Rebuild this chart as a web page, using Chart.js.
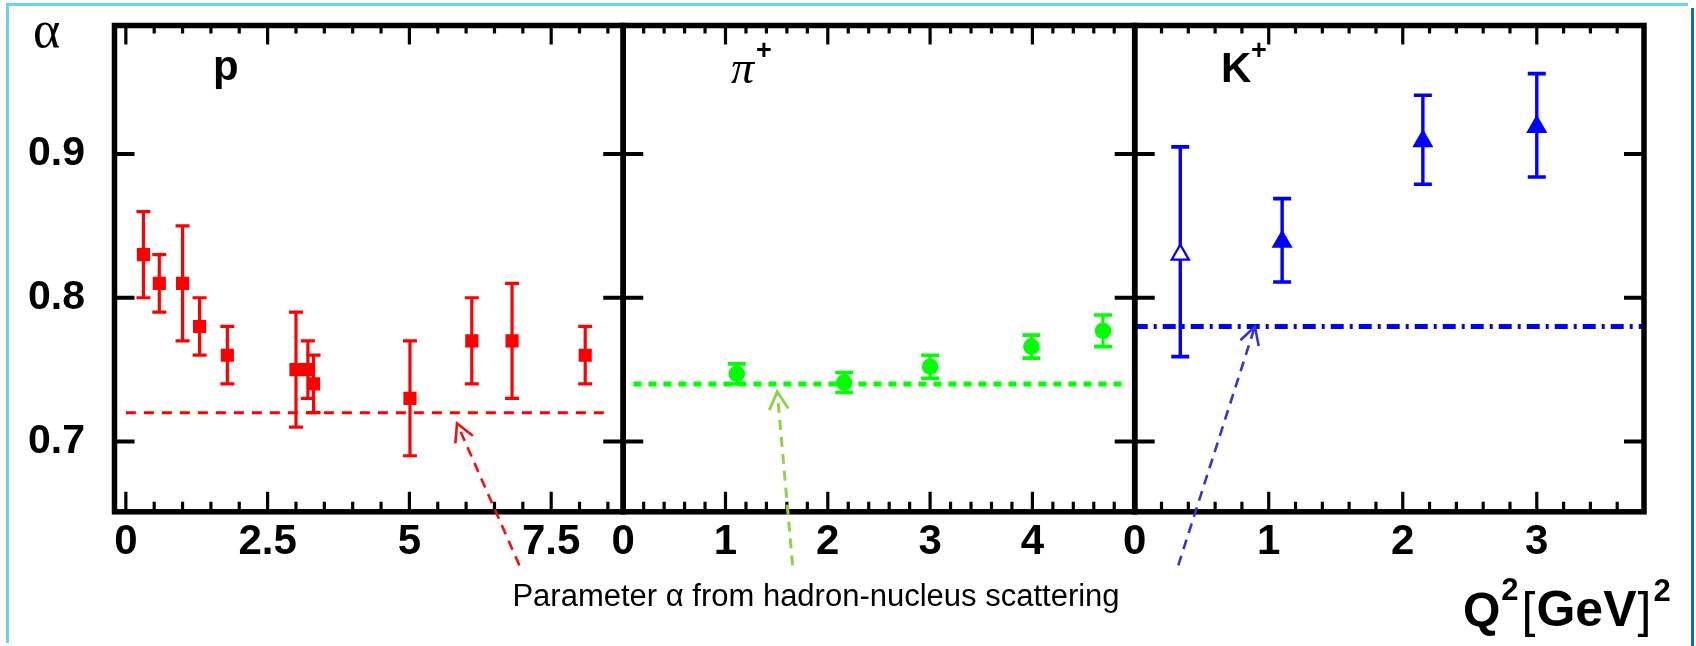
<!DOCTYPE html>
<html>
<head>
<meta charset="utf-8">
<title>Parameter α vs Q²</title>
<script src="https://cdn.jsdelivr.net/npm/chart.js@4.4.1/dist/chart.umd.min.js"></script>
<style>
  html, body { margin:0; padding:0; background:#ffffff; }
  #wrap { position:relative; width:1696px; height:646px; overflow:hidden; background:#ffffff; }
  #wrap canvas { position:absolute; left:0; top:0; }
  .edge { position:absolute; }
</style>
</head>
<body>
<div id="wrap">
  <div class="edge" style="left:6px;top:3px;width:1682px;height:3px;background:#6ccff6;"></div>
  <div class="edge" style="left:6px;top:3px;width:3px;height:640px;background:#6ccff6;"></div>
  <div class="edge" style="left:1691px;top:8px;width:3px;height:638px;background:#0b72a0;"></div>
  <canvas id="cP" width="1696" height="646"></canvas>
  <canvas id="cPi" width="1696" height="646"></canvas>
  <canvas id="cK" width="1696" height="646"></canvas>
</div>
<script>
// ------------------------------------------------------------------ data
const yTicks      = [0.7, 0.8, 0.9];
const yTickLabels = ['0.7', '0.8', '0.9'];
const yRange      = [0.651, 0.9895];

// proton panel
const pQ2    = [0.31, 0.59, 1.00, 1.30, 1.79, 3.00, 3.21, 3.31, 5.01, 6.10, 6.81, 8.10];
const pAlpha = [0.83, 0.81, 0.81, 0.78, 0.76, 0.75, 0.75, 0.74, 0.73, 0.77, 0.77, 0.76];
const pErr   = [0.03, 0.02, 0.04, 0.02, 0.02, 0.04, 0.02, 0.02, 0.04, 0.03, 0.04, 0.02];
const pFitAlpha = 0.72;
const pFitQ2    = [0, 8.45];
const pXTicks      = [0, 2.5, 5, 7.5];
const pXTickLabels = ['0', '2.5', '5', '7.5'];
const pXMinorStep  = 0.5;
const pXRange      = [-0.2, 8.77];

// pi+ panel
const piQ2    = [1.11, 2.16, 3.00, 3.99, 4.69];
const piAlpha = [0.747, 0.741, 0.752, 0.766, 0.777];
const piErr   = [0.007, 0.007, 0.008, 0.008, 0.011];
const piFitAlpha = 0.74;
const piFitQ2    = [0.1, 4.93];
const piXTicks      = [0, 1, 2, 3, 4];
const piXTickLabels = ['0', '1', '2', '3', '4'];
const piXMinorStep  = 0.2;
const piXRange      = [0, 5];

// K+ panel
const kQ2      = [0.34, 1.10, 2.15, 3.00];
const kAlpha   = [0.830, 0.839, 0.909, 0.919];
const kErrUp   = [0.075, 0.030, 0.032, 0.037];
const kErrDown = [0.071, 0.028, 0.030, 0.035];
const kFitAlpha = 0.78;
const kFitQ2    = [0, 3.8];
const kXTicks      = [0, 1, 2, 3];
const kXTickLabels = ['0', '1', '2', '3'];
const kXMinorStep  = 0.2;
const kXRange      = [0, 3.8];

// ------------------------------------------------------------------ layout / style
const W = 1696, H = 646;
const AREA_TOP = 25.5, AREA_BOTTOM = 511.8;
const Y_AXIS_W = 100;
const SANS  = "'Liberation Sans', Arial, Helvetica, sans-serif";
const SERIF = "'Liberation Serif', 'Times New Roman', serif";

function tickList(range, step) {
  const out = [];
  const n0 = Math.ceil(range[0] / step - 1e-9), n1 = Math.floor(range[1] / step + 1e-9);
  for (let n = n0; n <= n1; n++) out.push(+(n * step).toFixed(6));
  return out;
}

function drawArrow(ctx, x, y, a) {
  const fx = x.getPixelForValue(a.from[0]), fy = y.getPixelForValue(a.from[1]);
  const tx = x.getPixelForValue(a.to[0]),   ty = y.getPixelForValue(a.to[1]);
  ctx.save();
  ctx.strokeStyle = a.color; ctx.lineWidth = a.width; ctx.lineCap = 'butt';
  ctx.setLineDash(a.dash);
  ctx.beginPath(); ctx.moveTo(fx, fy); ctx.lineTo(tx, ty); ctx.stroke();
  ctx.setLineDash([]);
  const ang = Math.atan2(fy - ty, fx - tx), half = 0.5, len = 20;
  ctx.beginPath();
  ctx.moveTo(tx + len * Math.cos(ang + half), ty + len * Math.sin(ang + half));
  ctx.lineTo(tx, ty);
  ctx.lineTo(tx + len * Math.cos(ang - half), ty + len * Math.sin(ang - half));
  ctx.stroke();
  ctx.restore();
}

function makeDeco(cfg) {
  const minor = tickList(cfg.xRange, cfg.minorStep);
  return {
    id: 'deco_' + cfg.id,
    beforeDatasetsDraw(chart) {
      const {ctx, scales: {x, y}} = chart;
      ctx.save();
      ctx.strokeStyle = cfg.color;
      cfg.q2.forEach((q, i) => {
        const px = x.getPixelForValue(q);
        const yt = y.getPixelForValue(cfg.alpha[i] + cfg.errUp[i]);
        const yb = y.getPixelForValue(cfg.alpha[i] - cfg.errDown[i]);
        ctx.lineWidth = cfg.errLine;
        ctx.beginPath(); ctx.moveTo(px, yt); ctx.lineTo(px, yb); ctx.stroke();
        ctx.lineWidth = cfg.capThick;
        ctx.beginPath();
        ctx.moveTo(px - cfg.capW / 2, yt); ctx.lineTo(px + cfg.capW / 2, yt);
        ctx.moveTo(px - cfg.capW / 2, yb); ctx.lineTo(px + cfg.capW / 2, yb);
        ctx.stroke();
      });
      ctx.restore();
    },
    afterDraw(chart) {
      const {ctx, chartArea: ca, scales: {x, y}} = chart;
      ctx.save();
      ctx.strokeStyle = '#000'; ctx.lineCap = 'butt';
      // x tick marks (inward, top and bottom)
      ctx.lineWidth = 3.2;
      minor.forEach(v => {
        const px = x.getPixelForValue(v);
        if (px < ca.left + 2 || px > ca.right - 2) return;
        const major = cfg.xTicks.some(m => Math.abs(m - v) < 1e-6);
        const lb = major ? 20 : 10, lt = major ? 19 : 8;
        ctx.beginPath();
        ctx.moveTo(px, ca.bottom); ctx.lineTo(px, ca.bottom - lb);
        ctx.moveTo(px, ca.top); ctx.lineTo(px, ca.top + lt);
        ctx.stroke();
      });
      // y tick marks (inward, left and right)
      ctx.lineWidth = 4;
      yTicks.forEach(v => {
        const py = y.getPixelForValue(v);
        ctx.beginPath();
        ctx.moveTo(ca.left, py); ctx.lineTo(ca.left + 20, py);
        ctx.moveTo(ca.right, py); ctx.lineTo(ca.right - 20, py);
        ctx.stroke();
      });
      // frame
      ctx.lineWidth = 5.5;
      ctx.strokeRect(ca.left, ca.top, ca.right - ca.left, ca.bottom - ca.top);
      ctx.restore();
      // annotation arrow
      if (cfg.arrow) drawArrow(ctx, x, y, cfg.arrow);
      // texts
      ctx.save();
      ctx.fillStyle = '#000';
      (cfg.texts || []).forEach(t => {
        ctx.font = t.font;
        ctx.textAlign = t.align || 'left';
        ctx.textBaseline = t.baseline || 'alphabetic';
        ctx.fillText(t.text, t.x, t.y);
      });
      if (cfg.after) cfg.after(ctx);
      ctx.restore();
    }
  };
}

function makePanel(cfg) {
  const canvas = document.getElementById(cfg.id);
  const yW = cfg.showY ? Y_AXIS_W : 0;
  return new Chart(canvas, {
    type: 'scatter',
    data: {
      datasets: [
        {
          label: cfg.name,
          data: cfg.q2.map((q, i) => ({x: q, y: cfg.alpha[i]})),
          pointStyle: cfg.pointStyle,
          pointRadius: cfg.pointRadius,
          pointBackgroundColor: cfg.pointFill,
          pointBorderColor: cfg.color,
          pointBorderWidth: cfg.pointBorder,
          showLine: false
        },
        {
          label: cfg.name + ' hadron-nucleus',
          data: cfg.fitQ2.map(q => ({x: q, y: cfg.fitAlpha})),
          showLine: true,
          borderColor: cfg.color,
          borderWidth: cfg.fitWidth,
          borderDash: cfg.fitDash,
          borderCapStyle: 'butt',
          pointRadius: 0,
          fill: false
        }
      ]
    },
    options: {
      responsive: false,
      animation: false,
      events: [],
      layout: {padding: {left: cfg.left - yW, right: W - cfg.right, top: AREA_TOP, bottom: 0}},
      plugins: {legend: {display: false}, tooltip: {enabled: false}, title: {display: false}},
      scales: {
        x: {
          type: 'linear', position: 'bottom',
          min: cfg.xRange[0], max: cfg.xRange[1],
          grid: {display: false, drawTicks: false},
          border: {display: false},
          afterBuildTicks: s => { s.ticks = cfg.xTicks.map(v => ({value: v})); },
          afterFit: s => { s.height = H - AREA_BOTTOM; s.paddingLeft = 0; s.paddingRight = 0; },
          ticks: {
            autoSkip: false, maxRotation: 0, minRotation: 0, padding: 5, color: '#000',
            font: {family: SANS, size: 42, weight: 'bold'},
            callback: (v, i) => cfg.xTickLabels[i]
          }
        },
        y: {
          type: 'linear', position: 'left',
          min: yRange[0], max: yRange[1],
          grid: {display: false, drawTicks: false},
          border: {display: false},
          afterBuildTicks: s => { s.ticks = yTicks.map(v => ({value: v})); },
          afterFit: s => { s.width = yW; s.paddingTop = 0; s.paddingBottom = 0; },
          ticks: {
            display: cfg.showY, autoSkip: false, padding: 29.5, color: '#000',
            font: {family: SANS, size: 41, weight: 'bold'},
            callback: (v, i) => yTickLabels[i]
          }
        }
      }
    },
    plugins: [makeDeco(cfg)]
  });
}

const RED = '#ff0000', GREEN = '#00ff00', BLUE = '#0000ff';

makePanel({
  id: 'cP', name: 'p', left: 114.5, right: 623.2, showY: true,
  xRange: pXRange, xTicks: pXTicks, xTickLabels: pXTickLabels, minorStep: pXMinorStep,
  q2: pQ2, alpha: pAlpha, errUp: pErr, errDown: pErr,
  fitQ2: pFitQ2, fitAlpha: pFitAlpha,
  color: RED, pointStyle: 'rect', pointRadius: 9.3, pointFill: RED, pointBorder: 0,
  errLine: 3.2, capW: 14, capThick: 3.2,
  fitWidth: 3, fitDash: [10, 8],
  arrow: {from: [6.94, 0.6137], to: [5.84, 0.7125], color: '#f01010', width: 2.6, dash: [10, 7]},
  texts: [
    {text: 'α', x: 33, y: 47, font: `52px ${SERIF}`},
    {text: 'p', x: 213, y: 80, font: `bold 42px ${SANS}`}
  ]
});

makePanel({
  id: 'cPi', name: 'π+', left: 623.2, right: 1134.7, showY: false,
  xRange: piXRange, xTicks: piXTicks, xTickLabels: piXTickLabels, minorStep: piXMinorStep,
  q2: piQ2, alpha: piAlpha, errUp: piErr, errDown: piErr,
  fitQ2: piFitQ2, fitAlpha: piFitAlpha,
  color: GREEN, pointStyle: 'circle', pointRadius: 8.3, pointFill: GREEN, pointBorder: 0,
  errLine: 3.2, capW: 18, capThick: 3.6,
  fitWidth: 5, fitDash: [8, 7],
  arrow: {from: [1.656, 0.6137], to: [1.506, 0.7345], color: '#92d050', width: 3, dash: [10, 7]},
  texts: [
    {text: 'π', x: 731, y: 83, font: `italic 46px ${SERIF}`},
    {text: '+', x: 764, y: 52, font: `bold 27px ${SANS}`, align: 'center', baseline: 'middle'},
    {text: 'Parameter α from hadron-nucleus scattering', x: 816, y: 606, font: `31px ${SANS}`, align: 'center'}
  ]
});

makePanel({
  id: 'cK', name: 'K+', left: 1134.7, right: 1644, showY: false,
  xRange: kXRange, xTicks: kXTicks, xTickLabels: kXTickLabels, minorStep: kXMinorStep,
  q2: kQ2, alpha: kAlpha, errUp: kErrUp, errDown: kErrDown,
  fitQ2: kFitQ2, fitAlpha: kFitAlpha,
  color: BLUE, pointStyle: 'triangle', pointRadius: 10,
  pointFill: ctx => ctx.dataIndex === 0 ? '#ffffff' : BLUE, pointBorder: 2.2,
  errLine: 3.4, capW: 18, capThick: 3.6,
  fitWidth: 5, fitDash: [13, 6, 3, 6],
  arrow: {from: [0.325, 0.6137], to: [0.897, 0.78], color: '#3535cc', width: 2.6, dash: [10, 7]},
  texts: [
    {text: 'K', x: 1221, y: 82, font: `bold 42px ${SANS}`},
    {text: '+', x: 1259, y: 52, font: `bold 27px ${SANS}`, align: 'center', baseline: 'middle'}
  ],
  after: ctx => {
    // axis title  Q²[GeV]²
    ctx.textAlign = 'left'; ctx.textBaseline = 'alphabetic'; ctx.fillStyle = '#000';
    let xx = 1463;
    ctx.font = `bold 48px ${SANS}`; ctx.fillText('Q', xx, 626); xx += ctx.measureText('Q').width + 1;
    ctx.font = `bold 31px ${SANS}`; ctx.fillText('2', xx, 600); xx += ctx.measureText('2').width + 3;
    ctx.font = `50px ${SANS}`; ctx.fillText('[', xx, 627); xx += ctx.measureText('[').width + 1;
    ctx.font = `bold 50px ${SANS}`; ctx.fillText('GeV', xx, 626); xx += ctx.measureText('GeV').width + 1;
    ctx.font = `50px ${SANS}`; ctx.fillText(']', xx, 627); xx += ctx.measureText(']').width + 2;
    ctx.font = `bold 31px ${SANS}`; ctx.fillText('2', xx, 601);
  }
});
</script>
</body>
</html>
